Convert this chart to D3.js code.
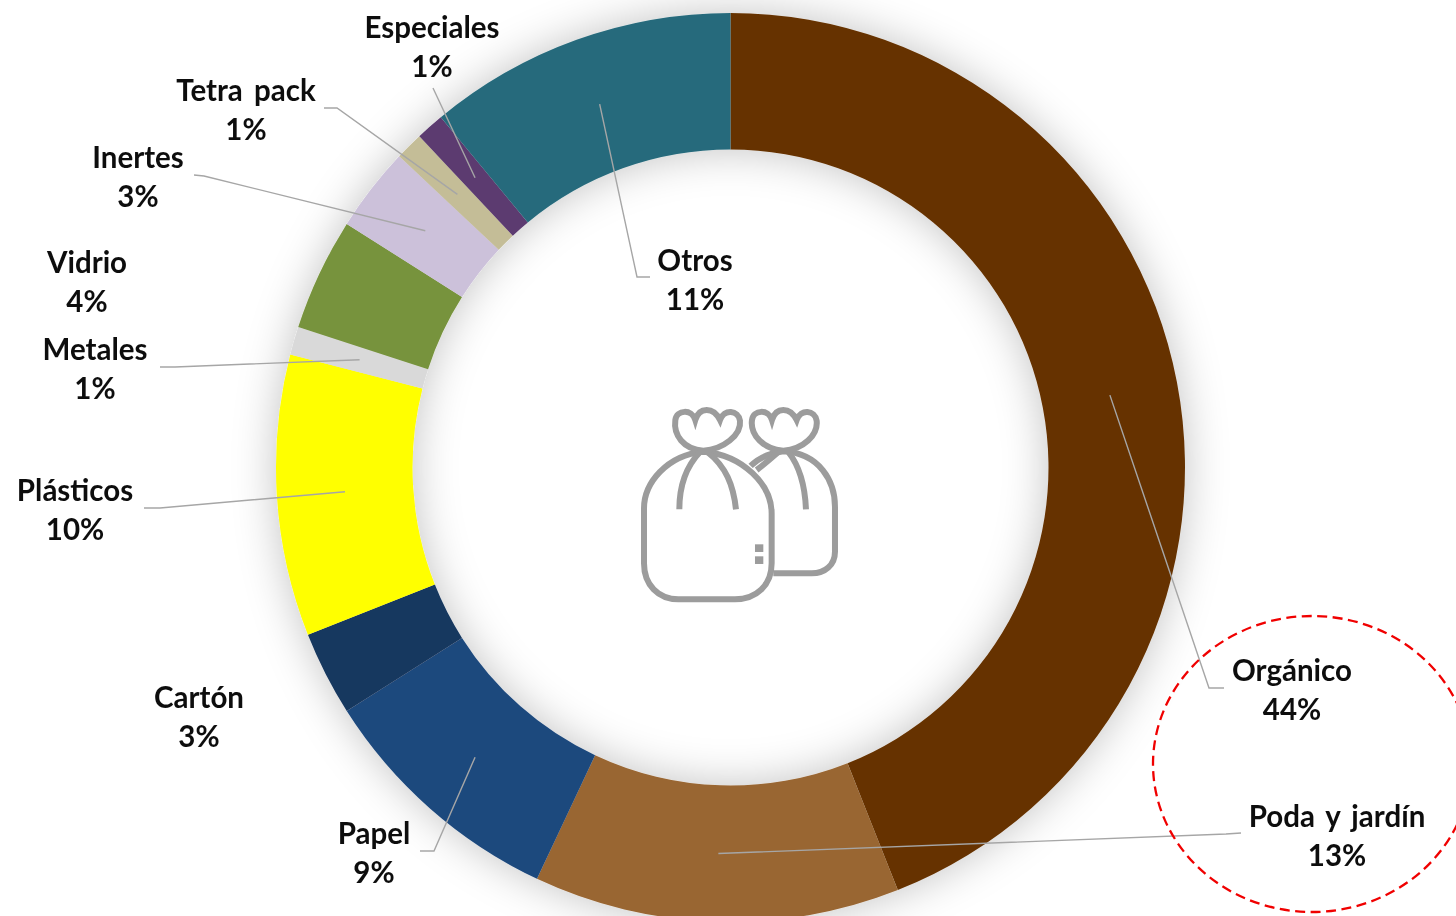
<!DOCTYPE html>
<html lang="es">
<head>
<meta charset="utf-8">
<title>Composición de residuos</title>
<script src="https://cdn.jsdelivr.net/npm/d3@7"></script>
<style>
  html, body { margin: 0; padding: 0; background: #fff; overflow: hidden; }
  svg { display: block; }
  text { font-family: Lato, "Open Sans", sans-serif; font-weight: 700; fill: #111; word-spacing: 4px; }
</style>
</head>
<body>
<div id="grafico"></div>
<script>
// Datos
const categorias = ["Orgánico", "Poda y jardín", "Papel", "Cartón", "Plásticos", "Metales", "Vidrio", "Inertes", "Tetra pack", "Especiales", "Otros"]
const valores = [44, 13, 9, 3, 10, 1, 4, 3, 1, 1, 11]
const colores = ["#663300", "#996633", "#1f497d", "#17375e", "#ffff00", "#d9d9d9", "#77933c", "#ccc1da", "#c4bd97", "#5b3a70", "#286b7c"]

// Tamaño del grafico
const width = 1456
const height = 916
const cx = 730.5
const cy = 467.5
const radioExt = 454.5
const radioInt = 318

// Posicion de las etiquetas: centro x, linea base y, codo de la guia
const etiquetas = {
  "Orgánico": {x: 1292, y: 680, guia: [[1209, 688], [1224, 688]]},
  "Poda y jardín": {x: 1337, y: 826, guia: [[1226, 834], [1241, 833]]},
  "Papel": {x: 374, y: 843, guia: [[434, 851], [420, 851]]},
  "Cartón": {x: 199, y: 707},
  "Plásticos": {x: 75, y: 500, guia: [[160, 508], [144, 508]]},
  "Metales": {x: 95, y: 359, guia: [[175, 367], [160, 367]]},
  "Vidrio": {x: 87, y: 272},
  "Inertes": {x: 138, y: 167, guia: [[204, 176], [194, 175]]},
  "Tetra pack": {x: 246, y: 100, guia: [[337, 108], [324, 108]]},
  "Especiales": {x: 432, y: 37, guia: [[433, 88]]},
  "Otros": {x: 695, y: 270, guia: [[637, 277], [650, 277]]}
}

const svg = d3.select("#grafico")
  .append("svg")
    .attr("width", width)
    .attr("height", height)

const defs = svg.append("defs")

// Sombra suave alrededor del anillo
const sombra = defs.append("filter")
    .attr("id", "sombra")
    .attr("x", "-20%").attr("y", "-20%")
    .attr("width", "140%").attr("height", "140%")
sombra.append("feDropShadow")
    .attr("dx", 0).attr("dy", 0)
    .attr("stdDeviation", 22)
    .attr("flood-color", "#000")
    .attr("flood-opacity", 0.24)

defs.append("filter")
    .attr("id", "borroso")
  .append("feGaussianBlur")
    .attr("stdDeviation", 0.8)

defs.append("filter")
    .attr("id", "suave")
  .append("feGaussianBlur")
    .attr("stdDeviation", 0.35)

const color = d3.scaleOrdinal()
  .domain(categorias)
  .range(colores)

const pie = d3.pie().sort(null).value(d => d.valor)
const arc = d3.arc().innerRadius(radioInt).outerRadius(radioExt)

const datos = categorias.map((c, i) => ({categoria: c, valor: valores[i]}))
const sectores = pie(datos)

const anillo = svg.append("g")
    .attr("transform", `translate(${cx},${cy})`)

anillo.append("g")
    .attr("filter", "url(#sombra)")
  .selectAll("path")
  .data(sectores)
  .join("path")
    .attr("d", arc)
    .attr("fill", d => color(d.data.categoria))

// Icono de las bolsas en el centro (dibujado a 3x)
const bolsas = svg.append("g")
    .attr("transform", "translate(620,390) scale(0.3333)")
    .attr("filter", "url(#borroso)")
    .attr("fill", "none")
    .attr("stroke", "#9c9c9c")
    .attr("stroke-width", 18)

const trazos = [
  // bolsa delantera
  "M250,185 C140,195 72,280 72,355 L72,520 C72,585 115,628 175,628 L345,628 C410,628 455,585 455,520 L455,370 C455,285 370,195 250,185",
  "M250,182 C190,178 160,135 166,90 C170,60 215,55 226,90 C238,50 280,50 300,90 C312,55 355,60 360,92 C365,135 310,178 250,182 Z",
  "M178,358 C178,285 198,230 240,186",
  "M348,358 C340,285 318,230 262,186",
  // bolsa trasera
  "M392,228 C415,205 445,190 490,184 C600,190 645,275 645,350 L645,485 C645,525 615,550 575,550 L460,550",
  "M490,182 C430,178 390,135 396,90 C400,60 445,55 456,90 C468,50 510,50 530,90 C542,55 585,60 590,92 C595,135 550,178 490,182 Z",
  "M558,358 C555,285 540,230 505,186",
  "M410,240 C430,225 450,208 475,186"
]
bolsas.selectAll("path")
  .data(trazos)
  .join("path")
    .attr("d", d => d)

bolsas.selectAll("rect")
  .data([463, 499])
  .join("rect")
    .attr("x", 405)
    .attr("y", d => d)
    .attr("width", 25)
    .attr("height", 23)
    .attr("fill", "#9c9c9c")
    .attr("stroke", "none")

// Lineas guia: salen del centroide de cada sector
const linea = d3.line()
svg.append("g")
  .selectAll("path")
  .data(sectores.filter(d => etiquetas[d.data.categoria].guia))
  .join("path")
    .attr("d", d => {
      const c = arc.centroid(d)
      return linea([[c[0] + cx, c[1] + cy], ...etiquetas[d.data.categoria].guia])
    })
    .attr("fill", "none")
    .attr("stroke", "#a6a6a6")
    .attr("stroke-width", 1.4)

// Etiquetas
const textos = svg.append("g")
    .attr("filter", "url(#suave)")
  .selectAll("text")
  .data(sectores)
  .join("text")
    .attr("text-anchor", "middle")
    .attr("font-size", 29.5)

textos.append("tspan")
    .attr("x", d => etiquetas[d.data.categoria].x)
    .attr("y", d => etiquetas[d.data.categoria].y + 0.5)
    .text(d => d.data.categoria)

textos.append("tspan")
    .attr("x", d => etiquetas[d.data.categoria].x)
    .attr("y", d => etiquetas[d.data.categoria].y + 40)
    .text(d => d.data.valor + "%")

// Elipse roja que resalta la fraccion organica
svg.append("ellipse")
    .attr("cx", 1312)
    .attr("cy", 764)
    .attr("rx", 159)
    .attr("ry", 148)
    .attr("fill", "none")
    .attr("stroke", "#f00000")
    .attr("stroke-width", 2.3)
    .attr("stroke-dasharray", "10 5.5")
</script>
</body>
</html>
